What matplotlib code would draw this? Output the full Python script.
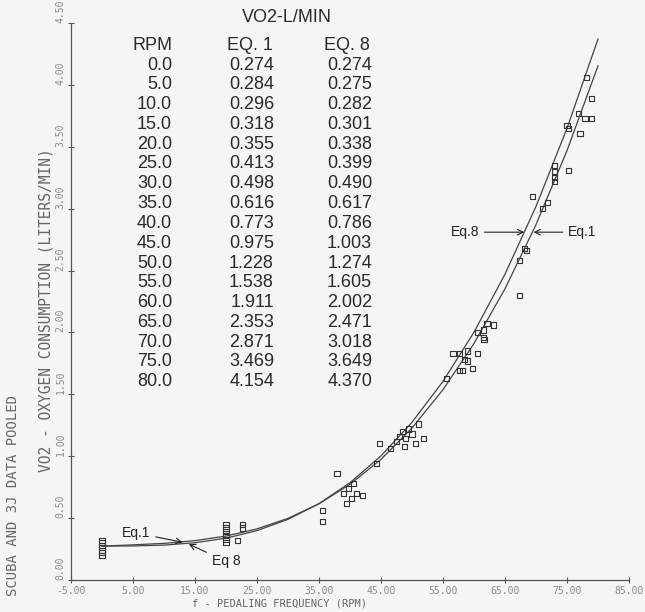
import numpy as np
import matplotlib
matplotlib.use('Agg')
import matplotlib.pyplot as plt

# table values (VO2 in L/min)
rpm = [0.0, 5.0, 10.0, 15.0, 20.0, 25.0, 30.0, 35.0, 40.0, 45.0, 50.0, 55.0, 60.0, 65.0, 70.0, 75.0, 80.0]
eq1 = [0.274, 0.284, 0.296, 0.318, 0.355, 0.413, 0.498, 0.616, 0.773, 0.975, 1.228, 1.538, 1.911, 2.353, 2.871, 3.469, 4.154]
eq8 = [0.274, 0.275, 0.282, 0.301, 0.338, 0.399, 0.490, 0.617, 0.786, 1.003, 1.274, 1.605, 2.002, 2.471, 3.018, 3.649, 4.370]

pts_rpm = [0, 0, 0, 0, 0, 0, 0,
           20, 20, 20, 20, 20, 20, 21.8, 22.7, 22.7,
           35.6, 35.6, 37.9, 39.5, 40.2, 41.0, 39.8, 40.6, 42.0, 39.0,
           44.8, 44.3, 46.5, 47.5, 48.0, 48.5, 49.0, 49.5, 50.0, 50.5, 51.0, 51.8, 48.8,
           55.6, 56.6, 57.7, 59.0, 59.0, 60.6, 57.7, 58.2, 59.7, 58.5,
           62.1, 63.1, 60.6, 61.5, 61.5, 61.6,
           67.4, 67.4, 68.2, 68.5, 69.4, 71.0, 71.8, 73.0, 73.0, 73.0, 73.0, 75.2,
           75.0, 75.3, 77.1, 76.8, 77.9, 79.0, 79.0, 78.2]
pts_vo2 = [0.20, 0.22, 0.24, 0.26, 0.28, 0.30, 0.32,
           0.30, 0.33, 0.36, 0.39, 0.42, 0.45, 0.32, 0.42, 0.45,
           0.56, 0.47, 0.86, 0.62, 0.66, 0.70, 0.74, 0.78, 0.68, 0.70,
           1.10, 0.94, 1.06, 1.12, 1.16, 1.20, 1.14, 1.22, 1.18, 1.10, 1.26, 1.14, 1.08,
           1.63, 1.83, 1.83, 1.85, 1.77, 1.83, 1.69, 1.69, 1.71, 1.78,
           2.07, 2.06, 2.00, 2.02, 1.96, 1.94,
           2.30, 2.58, 2.68, 2.66, 3.10, 3.00, 3.05, 3.35, 3.30, 3.25, 3.22, 3.31,
           3.67, 3.65, 3.61, 3.77, 3.73, 3.73, 3.89, 4.06]

xticks = [-5, 5, 15, 25, 35, 45, 55, 65, 75, 85]
yticks = [0, 0.5, 1.0, 1.5, 2.0, 2.5, 3.0, 3.5, 4.0, 4.5]

W, H = 645, 612
bg = '#f5f5f3'
ink = '#333333'
grey = '#8a8a8a'

fig = plt.figure(figsize=(W / 100, H / 100), dpi=100, facecolor=bg)
# axes box in pixels: x -5..85 -> 71..629, y 0..4.5 -> 580..23
ax = fig.add_axes([71 / W, 1 - 580 / H, (629 - 71) / W, (580 - 23) / H])
ax.set_facecolor(bg)

ax.plot(rpm, eq1, color='#444444', lw=0.9)
ax.plot(rpm, eq8, color='#444444', lw=0.9)
ax.scatter(pts_rpm, pts_vo2, marker='s', s=14, facecolors='none', edgecolors=ink, linewidths=0.8, zorder=3)

ax.set_xlim(-5, 85)
ax.set_ylim(0, 4.5)
for s in ['top', 'right']:
    ax.spines[s].set_visible(False)
for s in ['left', 'bottom']:
    ax.spines[s].set_color('#555555')
    ax.spines[s].set_linewidth(0.9)

ax.set_xticks(xticks)
ax.set_yticks(yticks)
ax.set_xticklabels(['%.2f' % v for v in xticks], fontfamily='DejaVu Sans Mono', fontsize=7, color=grey)
# plotter put the y labels just above each tick
ax.set_yticklabels(['%.2f' % v for v in yticks], fontfamily='DejaVu Sans Mono', fontsize=7, color=grey,
                   rotation=90, va='bottom')
ax.tick_params(direction='inout', length=5, width=0.8, color='#555555', pad=1.5)

# axis titles (plotter lettering)
fig.text(280 / W, 1 - 603 / H, 'f - PEDALING FREQUENCY (RPM)', fontfamily='DejaVu Sans Mono',
         fontsize=7.5, color='#666666', ha='center', va='center')
fig.text(46 / W, 1 - 310 / H, 'VO2 - OXYGEN CONSUMPTION (LITERS/MIN)', fontfamily='DejaVu Sans Mono',
         fontsize=10.5, color='#666666', ha='center', va='center', rotation=90)
fig.text(13 / W, 1 - 495 / H, 'SCUBA AND 3J DATA POOLED', fontfamily='DejaVu Sans Mono',
         fontsize=10, color='#666666', ha='center', va='center', rotation=90)

# inset table
tf = dict(fontfamily='Liberation Sans', fontsize=13, color='#2a2a2a', va='center')
fig.text(287 / W, 1 - 17 / H, 'VO2-L/MIN', ha='center', **tf)
fig.text(153 / W, 1 - 45 / H, 'RPM', ha='center', **tf)
fig.text(250 / W, 1 - 45 / H, 'EQ. 1', ha='center', **tf)
fig.text(347 / W, 1 - 45 / H, 'EQ. 8', ha='center', **tf)
for i in range(len(rpm)):
    yy = 1 - (65 + i * 19.8) / H
    fig.text(172 / W, yy, '%.1f' % rpm[i], ha='right', **tf)
    fig.text(274 / W, yy, '%.3f' % eq1[i], ha='right', **tf)
    fig.text(372 / W, yy, '%.3f' % eq8[i], ha='right', **tf)

# curve labels
lf = dict(fontfamily='Liberation Sans', fontsize=10, color='#222222', va='center')
ap = dict(arrowstyle='->', color='#222222', lw=0.8, shrinkA=2, shrinkB=0)
ax.annotate('Eq.1', xy=(13, 0.305), xytext=(5.5, 0.38), ha='center', arrowprops=ap, **lf)
ax.annotate('Eq 8', xy=(14, 0.29), xytext=(20, 0.15), ha='center', arrowprops=ap, **lf)
ax.annotate('Eq.8', xy=(68.1, 2.81), xytext=(58.5, 2.81), ha='center', arrowprops=ap, **lf)
ax.annotate('Eq.1', xy=(69.6, 2.81), xytext=(77.5, 2.81), ha='center', arrowprops=ap, **lf)

fig.savefig('out.png', dpi=100, facecolor=bg)
